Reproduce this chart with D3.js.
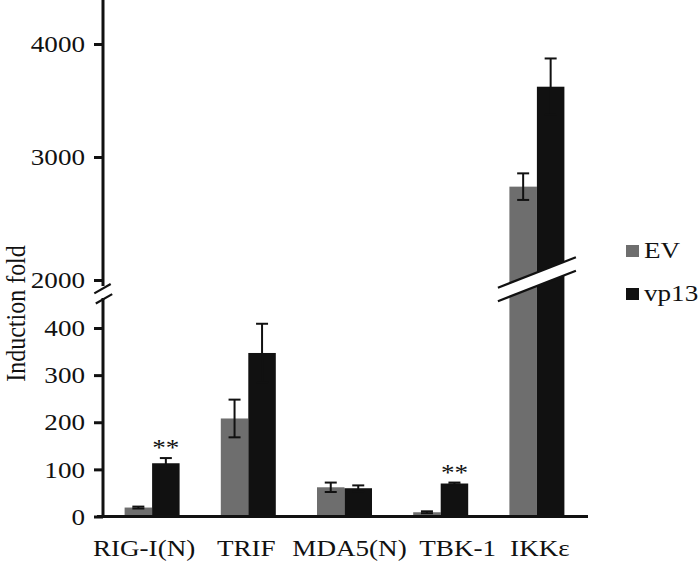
<!DOCTYPE html>
<html>
<head>
<meta charset="utf-8">
<script src="https://cdn.jsdelivr.net/npm/d3@7"></script>
<style>
  body { margin: 0; background: #fff; }
  text { font-family: "Liberation Serif", "Times New Roman", serif; fill: #111; }
</style>
</head>
<body>
<svg id="chart" width="700" height="562"></svg>
<script>
// data
var categories = ['RIG-I(N)', 'TRIF', 'MDA5(N)', 'TBK-1', 'IKKε'];
var seriesNames = ['EV', 'vp13'];
var evMean = [19, 208, 62, 9, 2759];
var evErr = [2, 40, 10, 2, 108];
var vpMean = [113, 347, 60, 70, 3622];
var vpErr = [11, 62, 6, 2, 250];
var stars = ['**', '', '', '**', ''];
var lowTicks = [0, 100, 200, 300, 400];
var highTicks = [2000, 3000, 4000];

// the category labels in the source are not centred under their groups
var labelNudge = [-8, -2, 5, 17, 3];

var colors = { EV: '#6e6e6e', vp13: '#111111' };
var SX = 1.13;          // the source figure is a bit wider than tall in its glyphs
var fontSize = 24;

var svg = d3.select('#chart');
var axisX = 103;

// two pieces of the broken value axis
var yLow = d3.scaleLinear().domain([0, 400]).range([516.5, 328]);
var yHigh = d3.scaleLinear().domain([2000, 3000, 4000]).range([280, 157, 44]);
function yv(v) { return v >= 1000 ? yHigh(v) : yLow(v); }

var x0 = d3.scaleBand().domain(categories).range([104, 585]);
var x1 = d3.scaleBand().domain(seriesNames).range([-27.5, 27.5]);
function center(c) { return x0(c) + x0.bandwidth() / 2; }

var rows = categories.map(function (c, i) {
    return {
        cat: c,
        star: stars[i],
        values: [
            { key: 'EV', mean: evMean[i], err: evErr[i] },
            { key: 'vp13', mean: vpMean[i], err: vpErr[i] }
        ]
    };
});

// bars
var groups = svg.append('g').selectAll('g').data(rows).enter().append('g')
    .attr('transform', function (d) { return 'translate(' + center(d.cat) + ',0)'; });

groups.selectAll('rect').data(function (d) { return d.values; }).enter().append('rect')
    .attr('x', function (d) { return x1(d.key); })
    .attr('width', x1.bandwidth())
    .attr('y', function (d) { return yv(d.mean); })
    .attr('height', function (d) { return yLow(0) - yv(d.mean); })
    .attr('fill', function (d) { return colors[d.key]; });

// error bars
var eb = groups.selectAll('g.err').data(function (d) { return d.values; }).enter().append('g')
    .attr('class', 'err')
    .attr('transform', function (d) { return 'translate(' + (x1(d.key) + x1.bandwidth() / 2) + ',0)'; })
    .attr('stroke', '#111').attr('stroke-width', 2);
eb.append('line')
    .attr('y1', function (d) { return yv(d.mean + d.err); })
    .attr('y2', function (d) { return yv(d.mean - d.err); });
eb.append('line').attr('x1', -6).attr('x2', 6)
    .attr('y1', function (d) { return yv(d.mean + d.err); })
    .attr('y2', function (d) { return yv(d.mean + d.err); });
eb.append('line').attr('x1', -6).attr('x2', 6)
    .attr('y1', function (d) { return yv(d.mean - d.err); })
    .attr('y2', function (d) { return yv(d.mean - d.err); });

// significance stars over vp13
groups.filter(function (d) { return d.star; }).append('text')
    .attr('text-anchor', 'middle')
    .attr('font-size', fontSize)
    .attr('transform', function (d) {
        var v = d.values[1];
        return 'translate(' + (x1('vp13') + x1.bandwidth() / 2) + ',' + (yv(v.mean + v.err) - 3) + ') scale(' + SX + ',1)';
    })
    .text(function (d) { return d.star; });

// break across the tall bars
var tall = rows.filter(function (d) { return d.values[1].mean >= 1000; });
tall.forEach(function (d) {
    var cx = center(d.cat), half = 39, rise = 15.2, yA = 272.5, yB = 286;
    svg.append('polygon')
        .attr('points', [[cx - half, yA + rise], [cx + half, yA - rise], [cx + half, yB - rise], [cx - half, yB + rise]].join(' '))
        .attr('fill', '#fff');
    [yA, yB].forEach(function (yy) {
        svg.append('line')
            .attr('x1', cx - half).attr('y1', yy + rise)
            .attr('x2', cx + half).attr('y2', yy - rise)
            .attr('stroke', '#111').attr('stroke-width', 2.2);
    });
});

// axes
function styleAxis(g) {
    g.select('.domain').remove();
    g.selectAll('.tick line').attr('stroke', '#111').attr('stroke-width', 3);
    g.selectAll('.tick text')
        .attr('font-size', fontSize)
        .attr('font-family', '"Liberation Serif", "Times New Roman", serif')
        .attr('fill', '#111')
        .attr('x', -18 / SX)
        .attr('transform', 'scale(' + SX + ',1)');
}
svg.append('g').attr('transform', 'translate(' + axisX + ',0)')
    .call(d3.axisLeft(yLow).tickValues(lowTicks).tickSize(9).tickFormat(d3.format('d')))
    .call(styleAxis);
svg.append('g').attr('transform', 'translate(' + axisX + ',0)')
    .call(d3.axisLeft(yHigh).tickValues(highTicks).tickSize(9).tickFormat(d3.format('d')))
    .call(styleAxis);

var axisLines = svg.append('g').attr('stroke', '#111').attr('stroke-width', 3);
axisLines.append('line').attr('x1', axisX).attr('x2', axisX).attr('y1', 0).attr('y2', 286);
axisLines.append('line').attr('x1', axisX).attr('x2', axisX).attr('y1', 298).attr('y2', 518);
axisLines.append('line').attr('x1', 97).attr('x2', 588).attr('y1', yLow(0)).attr('y2', yLow(0));
// slashes on the value axis
[[102.5, 288.7], [104, 298.8]].forEach(function (p) {
    svg.append('line')
        .attr('x1', p[0] - 8.2).attr('y1', p[1] + 4.7)
        .attr('x2', p[0] + 8.2).attr('y2', p[1] - 4.7)
        .attr('stroke', '#111').attr('stroke-width', 2.2);
});

// category labels
svg.append('g').selectAll('text').data(categories).enter().append('text')
    .attr('text-anchor', 'middle')
    .attr('font-size', fontSize)
    .attr('transform', function (d, i) { return 'translate(' + (center(d) + labelNudge[i]) + ',556) scale(' + SX + ',1)'; })
    .text(function (d) { return d; });

// value axis title
svg.append('text')
    .attr('text-anchor', 'middle')
    .attr('font-size', fontSize)
    .attr('transform', 'translate(25,313.5) scale(' + SX + ',1) rotate(-90)')
    .text('Induction fold');

// legend
var legend = svg.append('g').attr('transform', 'translate(626,245)');
var li = legend.selectAll('g').data(seriesNames).enter().append('g')
    .attr('transform', function (d, i) { return 'translate(0,' + (i * 43) + ')'; });
li.append('rect').attr('width', 13).attr('height', 12)
    .attr('fill', function (d) { return colors[d]; });
li.append('text')
    .attr('font-size', fontSize)
    .attr('transform', 'translate(18,13) scale(' + SX + ',1)')
    .text(function (d) { return d; });
</script>
</body>
</html>
